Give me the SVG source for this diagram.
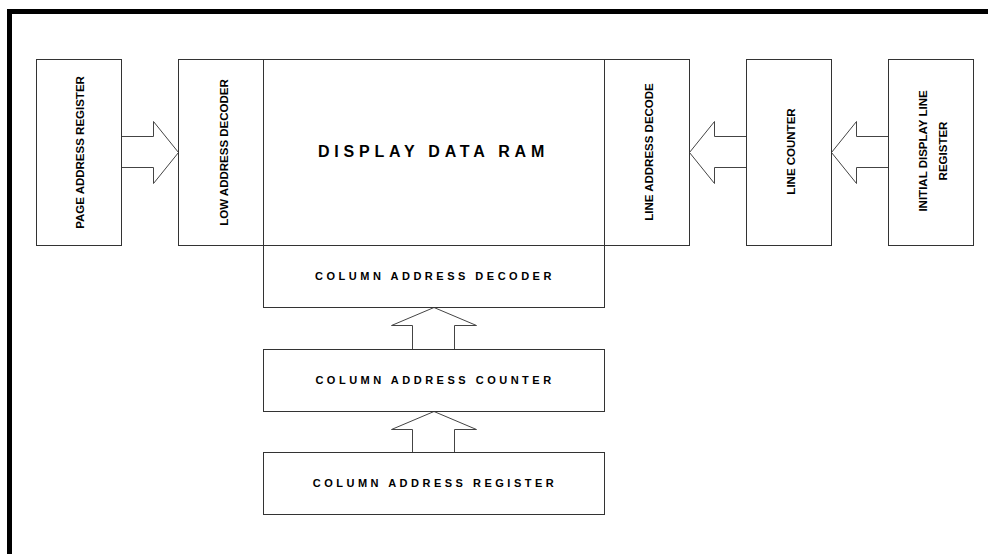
<svg xmlns="http://www.w3.org/2000/svg" width="988" height="554" viewBox="0 0 988 554">
<style>
.box{fill:none;stroke:#333;stroke-width:1}
.arr{fill:#fff;stroke:#444;stroke-width:1;stroke-linejoin:miter}
.v{font-family:"Liberation Sans",Arial,sans-serif;font-weight:bold;font-size:11.5px;fill:#000;text-anchor:middle}
.h{font-family:"Liberation Sans",Arial,sans-serif;font-weight:bold;font-size:11px;letter-spacing:3.5px;fill:#000;text-anchor:middle}
.big{font-family:"Liberation Sans",Arial,sans-serif;font-weight:bold;font-size:16px;letter-spacing:4.8px;fill:#000;text-anchor:middle}
</style>
<rect x="0" y="0" width="988" height="554" fill="#fff"/>
<g id="frame">
<rect x="7" y="9" width="981" height="5" fill="#000"/>
<rect x="7" y="9" width="5" height="545" fill="#000"/>
</g>
<g id="connectors">
<polyline class="arr" points="121.5,136.5 153.5,136.5 153.5,121.5 178.5,152.5 153.5,183.5 153.5,167.5 121.5,167.5"/>
<polyline class="arr" points="746.5,136.5 714.5,136.5 714.5,121.5 689.5,152.5 714.5,183.5 714.5,167.5 746.5,167.5"/>
<polyline class="arr" points="888.5,136.5 856.5,136.5 856.5,121.5 831.5,152.5 856.5,183.5 856.5,167.5 888.5,167.5"/>
<polyline class="arr" points="412.5,349.5 412.5,325.5 391.5,325.5 434,307.5 476.5,325.5 454.5,325.5 454.5,349.5"/>
<polyline class="arr" points="412.5,452.5 412.5,429.5 391.5,429.5 434,411.5 476.5,429.5 454.5,429.5 454.5,452.5"/>
</g>
<g id="page-address-register">
<rect class="box" x="36.5" y="59.5" width="85" height="186"/>
<text class="v" transform="translate(84,152.5) rotate(-90)">PAGE ADDRESS REGISTER</text>
</g>
<g id="low-address-decoder">
<rect class="box" x="178.5" y="59.5" width="85" height="186"/>
<text class="v" transform="translate(227.5,152.5) rotate(-90)">LOW ADDRESS DECODER</text>
</g>
<g id="display-data-ram">
<rect class="box" x="263.5" y="59.5" width="341" height="186"/>
<text class="big" x="433.5" y="157">DISPLAY DATA RAM</text>
</g>
<g id="line-address-decode">
<rect class="box" x="604.5" y="59.5" width="85" height="186"/>
<text class="v" transform="translate(652.5,152) rotate(-90)">LINE ADDRESS DECODE</text>
</g>
<g id="line-counter">
<rect class="box" x="746.5" y="59.5" width="85" height="186"/>
<text class="v" transform="translate(795,151.5) rotate(-90)">LINE COUNTER</text>
</g>
<g id="initial-display-line-register">
<rect class="box" x="888.5" y="59.5" width="85" height="186"/>
<text class="v" transform="translate(927,151) rotate(-90)">INITIAL DISPLAY LINE</text>
<text class="v" transform="translate(947,151) rotate(-90)">REGISTER</text>
</g>
<g id="column-address-decoder">
<rect class="box" x="263.5" y="245.5" width="341" height="62"/>
<text class="h" x="435" y="280">COLUMN ADDRESS DECODER</text>
</g>
<g id="column-address-counter">
<rect class="box" x="263.5" y="349.5" width="341" height="62"/>
<text class="h" x="435" y="384">COLUMN ADDRESS COUNTER</text>
</g>
<g id="column-address-register">
<rect class="box" x="263.5" y="452.5" width="341" height="62"/>
<text class="h" x="435" y="487">COLUMN ADDRESS REGISTER</text>
</g>
</svg>
